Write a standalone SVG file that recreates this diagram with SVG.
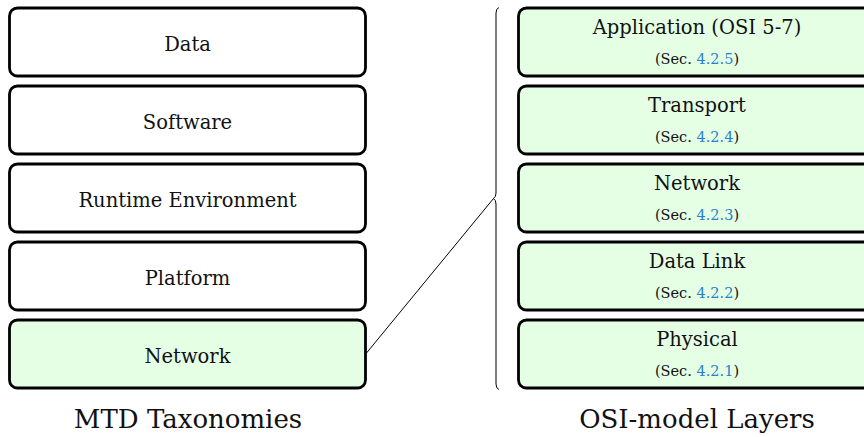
<svg xmlns="http://www.w3.org/2000/svg" width="864" height="437" viewBox="0 0 864 437">
<style>
.box{stroke:#000;stroke-width:2.8;fill:#fff}
.g{fill:#e5ffe5}
.t{font-family:"DejaVu Serif","Liberation Serif",serif;font-size:19.5px;fill:#111;text-anchor:middle}
.s{font-family:"DejaVu Serif","Liberation Serif",serif;font-size:14.5px;fill:#111;text-anchor:middle}
.ln{fill:#2a80c8}
.title{font-family:"DejaVu Serif","Liberation Serif",serif;font-size:26px;fill:#111;text-anchor:middle}
.c{fill:none;stroke:#000;stroke-width:1}
</style>
<g id="mtd-data"><rect class="box" x="9.5" y="8" width="356" height="68" rx="8"/><text class="t" x="187.5" y="50.5">Data</text></g>
<g id="mtd-software"><rect class="box" x="9.5" y="86" width="356" height="68" rx="8"/><text class="t" x="187.5" y="128.5">Software</text></g>
<g id="mtd-runtime"><rect class="box" x="9.5" y="164" width="356" height="68" rx="8"/><text class="t" x="187.5" y="206.5">Runtime Environment</text></g>
<g id="mtd-platform"><rect class="box" x="9.5" y="242" width="356" height="68" rx="8"/><text class="t" x="187.5" y="284.5">Platform</text></g>
<g id="mtd-network"><rect class="box g" x="9.5" y="320" width="356" height="68" rx="8"/><text class="t" x="187.5" y="362.5">Network</text></g>

<g id="osi-application"><rect class="box g" x="518.5" y="8" width="356" height="68" rx="8"/><text class="t" x="697" y="34">Application (OSI 5-7)</text><text class="s" x="697" y="64">(Sec. <tspan class="ln">4.2.5</tspan>)</text></g>
<g id="osi-transport"><rect class="box g" x="518.5" y="86" width="356" height="68" rx="8"/><text class="t" x="697" y="112">Transport</text><text class="s" x="697" y="142">(Sec. <tspan class="ln">4.2.4</tspan>)</text></g>
<g id="osi-network"><rect class="box g" x="518.5" y="164" width="356" height="68" rx="8"/><text class="t" x="697" y="190">Network</text><text class="s" x="697" y="220">(Sec. <tspan class="ln">4.2.3</tspan>)</text></g>
<g id="osi-datalink"><rect class="box g" x="518.5" y="242" width="356" height="68" rx="8"/><text class="t" x="697" y="268">Data Link</text><text class="s" x="697" y="298">(Sec. <tspan class="ln">4.2.2</tspan>)</text></g>
<g id="osi-physical"><rect class="box g" x="518.5" y="320" width="356" height="68" rx="8"/><text class="t" x="697" y="346">Physical</text><text class="s" x="697" y="376">(Sec. <tspan class="ln">4.2.1</tspan>)</text></g>

<g id="connectors">
<path class="c" d="M 499 7.5 Q 496 8.5 496 13 L 496 193 Q 496 197 493.5 198.5 Q 496 200 496 204 L 496 384 Q 496 388.5 499 389.5"/>
<path class="c" d="M 493.5 198.5 L 366.5 353"/>
</g>

<text class="title" x="188" y="428">MTD Taxonomies</text>
<text class="title" x="697" y="428">OSI-model Layers</text>
</svg>
